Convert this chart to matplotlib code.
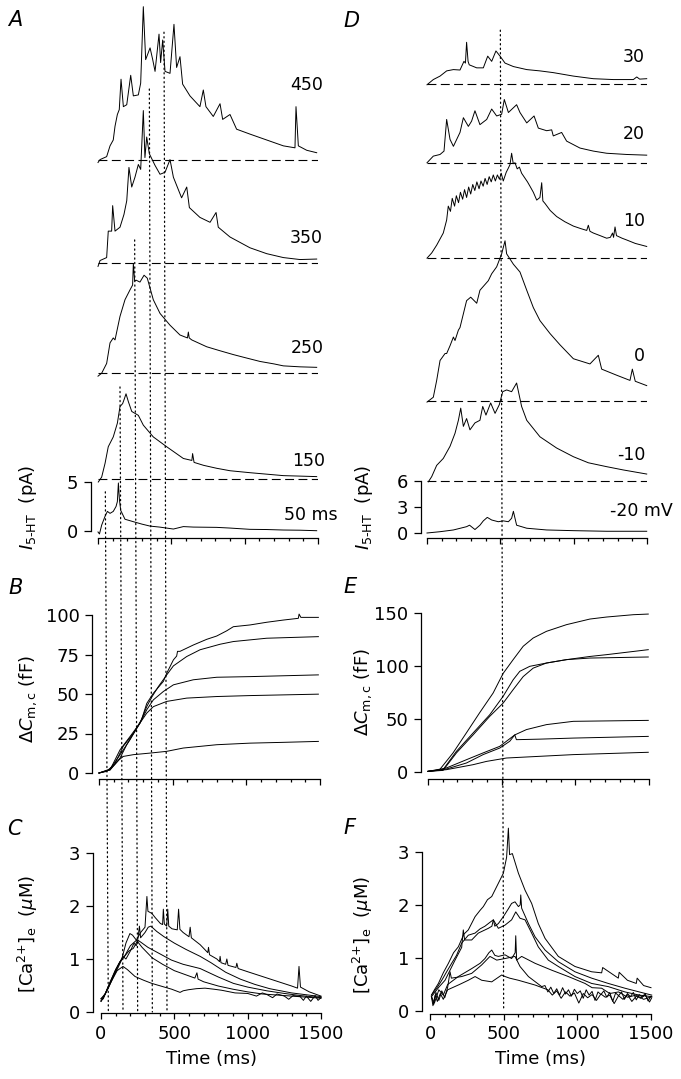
import numpy as np
import matplotlib
matplotlib.use('Agg')
import matplotlib.pyplot as plt
from matplotlib.patches import ConnectionPatch
from matplotlib.ticker import MultipleLocator

plt.rcParams['font.family'] = 'DejaVu Sans'
plt.rcParams['mathtext.fontset'] = 'dejavusans'

# ---------------- data ----------------
# A: I_5-HT (pA) for depolarisations of 50..450 ms
a_durations = [50, 150, 250, 350, 450]
a_labels = ['50 ms', '150', '250', '350', '450']

a50_t = [0, 10, 25, 48, 64, 82, 104, 123, 132, 139, 146, 155, 184, 241, 300, 355, 420, 514, 582, 650, 809, 900, 1036, 1150, 1264, 1380, 1491]
a50_i = [-0.1, -0.3, 0.6, 1.5, 2.0, 1.8, 2.0, 2.5, 3.0, 4.9, 3.2, 2.1, 1.2, 0.95, 0.7, 0.5, 0.4, 0.2, 0.45, 0.4, 0.37, 0.3, 0.17, 0.15, 0.1, 0.08, 0.03]

a150_t = [2, 25, 48, 70, 104, 132, 150, 168, 180, 191, 207, 230, 275, 309, 377, 468, 582, 640, 645, 655, 720, 809, 900, 1036, 1150, 1264, 1380, 1491]
a150_i = [-0.3, 0.2, 1.6, 3.3, 4.3, 5.7, 7.4, 7.7, 8.2, 8.7, 7.9, 6.9, 6.5, 5.5, 4.3, 3.3, 2.1, 1.9, 2.6, 1.7, 1.4, 1.1, 0.85, 0.65, 0.5, 0.35, 0.3, 0.25]

a250_t = [0, 25, 59, 82, 104, 116, 150, 184, 218, 236, 241, 250, 259, 286, 314, 336, 377, 423, 491, 559, 610, 616, 622, 639, 741, 830, 923, 1000, 1105, 1200, 1264, 1380, 1491]
a250_i = [-0.3, 0.0, 1.0, 3.1, 3.6, 3.4, 5.8, 7.5, 8.5, 9.0, 11.2, 9.4, 9.5, 9.3, 10.0, 9.7, 7.5, 6.1, 4.9, 3.9, 3.6, 4.2, 3.6, 3.4, 2.7, 2.3, 1.9, 1.6, 1.2, 0.95, 0.75, 0.65, 0.6]

a350_t = [0, 14, 59, 70, 93, 100, 116, 150, 177, 196, 211, 230, 252, 275, 291, 309, 320, 332, 350, 389, 423, 457, 491, 514, 570, 605, 623, 695, 764, 805, 820, 900, 1036, 1150, 1264, 1377, 1491]
a350_i = [-0.3, 0.3, 0.6, 3.3, 3.3, 5.9, 3.3, 3.7, 5.0, 6.4, 9.8, 7.8, 8.8, 10.1, 9.6, 15.6, 10.8, 12.9, 11.2, 10.0, 9.1, 9.3, 10.6, 8.8, 6.7, 7.8, 5.7, 4.7, 4.2, 5.2, 3.7, 2.7, 1.6, 1.0, 0.6, 0.4, 0.45]

a450_t = [0, 14, 59, 82, 104, 116, 132, 145, 157, 173, 196, 223, 241, 275, 291, 309, 325, 355, 373, 389, 416, 427, 441, 457, 491, 518, 536, 559, 577, 627, 695, 718, 736, 786, 832, 850, 900, 945, 1036, 1150, 1264, 1343, 1350, 1366, 1423, 1491]
a450_i = [-0.3, 0.0, 0.3, 1.4, 2.0, 3.4, 4.6, 5.1, 8.2, 5.4, 5.6, 8.6, 6.5, 6.6, 7.8, 15.6, 10.2, 11.4, 10.2, 9.0, 12.8, 9.9, 12.2, 9.0, 8.8, 13.8, 9.4, 10.5, 7.7, 6.5, 5.4, 7.1, 5.4, 4.4, 5.7, 4.1, 4.6, 3.1, 2.6, 2.0, 1.4, 1.2, 5.4, 1.4, 0.95, 0.7]

# D: I_5-HT (pA) for 500 ms steps to -20..30 mV
d_duration = 500
d_labels = ['-20 mV', '-10', '0', '10', '20', '30']

dm20_t = [0, 89, 180, 270, 290, 327, 361, 384, 411, 441, 486, 520, 555, 577, 589, 611, 680, 816, 998, 1225, 1498]
dm20_i = [0, 0.15, 0.35, 0.73, 0.9, 0.4, 0.9, 1.4, 1.8, 1.5, 1.3, 1.4, 1.3, 1.7, 2.5, 0.9, 0.55, 0.35, 0.27, 0.2, 0.2]

dm10_t = [9, 32, 66, 111, 157, 191, 214, 230, 248, 270, 293, 327, 361, 380, 402, 434, 464, 493, 516, 543, 577, 611, 645, 680, 770, 884, 998, 1100, 1225, 1339, 1498]
dm10_i = [-0.1, 0.5, 1.8, 2.6, 4.0, 5.5, 7.0, 8.4, 6.3, 7.2, 5.9, 6.7, 7.0, 8.6, 7.6, 9.0, 7.8, 8.8, 10.3, 10.5, 10.3, 11.3, 8.6, 7.0, 5.1, 3.8, 2.8, 2.1, 1.65, 1.27, 0.8]

d0_t = [0, 43, 66, 89, 123, 134, 157, 180, 191, 214, 225, 270, 298, 339, 361, 418, 441, 475, 509, 532, 543, 589, 634, 680, 725, 770, 839, 907, 998, 1111, 1168, 1191, 1293, 1384, 1400, 1420, 1498]
d0_i = [-0.1, 0.46, 2.4, 4.7, 5.5, 5.5, 6.4, 7.4, 7.0, 8.2, 8.5, 11.6, 12.0, 11.3, 12.8, 13.9, 14.7, 15.5, 17.0, 18.5, 17.0, 15.8, 14.9, 12.8, 10.8, 9.3, 7.8, 6.5, 4.9, 4.3, 5.3, 3.7, 3.0, 2.4, 3.7, 2.3, 1.8]

d10_t = [0, 32, 66, 111, 134, 145, 160, 172, 188, 200, 215, 228, 243, 256, 270, 284, 298, 312, 326, 340, 355, 368, 383, 396, 410, 424, 438, 452, 466, 480, 494, 506, 520, 540, 555, 566, 577, 588, 600, 615, 630, 645, 665, 685, 702, 725, 748, 770, 782, 790, 805, 840, 884, 940, 998, 1050, 1089, 1100, 1111, 1134, 1180, 1225, 1250, 1265, 1272, 1282, 1292, 1330, 1361, 1420, 1498]
d10_i = [0, 0.6, 1.5, 2.9, 4.4, 6.0, 5.4, 6.9, 6.0, 7.2, 6.4, 7.6, 6.8, 7.9, 7.0, 8.2, 7.4, 8.5, 7.8, 8.8, 8.0, 8.9, 8.3, 9.2, 8.5, 9.4, 8.8, 9.6, 8.9, 9.6, 9.1, 9.8, 8.9, 9.9, 10.4, 10.8, 12.1, 10.9, 11.0, 10.3, 10.5, 9.8, 9.3, 8.8, 8.3, 7.6, 6.7, 7.0, 8.7, 6.6, 6.3, 5.5, 4.8, 4.2, 3.7, 3.4, 3.2, 3.8, 3.1, 2.9, 2.6, 2.3, 2.4, 2.9, 2.4, 3.6, 2.6, 2.3, 2.1, 1.7, 1.35]

d20_t = [0, 43, 89, 116, 134, 157, 180, 225, 248, 282, 304, 327, 361, 407, 441, 475, 509, 527, 555, 611, 634, 680, 730, 759, 816, 850, 861, 918, 952, 1043, 1134, 1225, 1361, 1498]
d20_i = [0, 0.77, 0.96, 1.35, 5.0, 2.7, 1.9, 3.5, 5.2, 4.2, 4.8, 6.0, 4.4, 5.0, 6.2, 5.4, 5.6, 7.3, 5.8, 6.7, 5.8, 4.6, 5.4, 4.0, 3.7, 3.8, 3.1, 3.5, 2.5, 1.7, 1.35, 1.1, 0.96, 0.88]

d30_t = [0, 43, 89, 134, 180, 225, 252, 262, 270, 280, 288, 339, 384, 414, 441, 470, 498, 532, 589, 680, 770, 861, 998, 1134, 1270, 1407, 1430, 1450, 1498]
d30_i = [-0.1, 0.5, 0.9, 1.5, 1.65, 1.6, 2.6, 2.4, 4.8, 2.6, 2.2, 1.85, 1.85, 3.2, 2.6, 3.8, 3.2, 2.4, 2.0, 1.65, 1.5, 1.3, 0.9, 0.6, 0.5, 0.5, 0.8, 0.55, 0.6]

# B: delta Cm,c (fF)
b450_t = [0, 52, 109, 165, 233, 290, 324, 369, 437, 459, 505, 527, 533, 550, 640, 731, 799, 867, 912, 1025, 1138, 1251, 1353, 1358, 1370, 1489]
b450_c = [0, 1, 6, 17, 25, 34, 44, 50.5, 58, 63, 71.6, 74, 77, 77, 81, 84.6, 86.7, 90, 92.6, 93.7, 95.4, 96.8, 97.9, 100.6, 98.5, 98.5]
b350_t = [0, 75, 143, 210, 278, 324, 358, 403, 459, 505, 595, 686, 822, 912, 1138, 1489]
b350_c = [0, 2, 14.7, 23, 31.6, 42, 48, 54.7, 62, 67.8, 73.7, 78, 81.5, 83.2, 85.3, 86.3]
b250_t = [0, 75, 143, 210, 278, 324, 369, 437, 505, 640, 799, 1025, 1489]
b250_c = [0, 2.5, 11.6, 21, 31.6, 40, 46.3, 51.6, 55.8, 59, 60.6, 61, 62.1]
b150_t = [0, 75, 143, 188, 233, 278, 324, 369, 459, 595, 799, 1025, 1489]
b150_c = [0, 2, 9.5, 17.9, 25, 31.6, 37.9, 42, 45.3, 47.4, 48.4, 49, 49.9]
b50_t = [0, 75, 137, 165, 233, 346, 459, 572, 799, 1025, 1250, 1489]
b50_c = [0, 2, 8.4, 10.5, 11.6, 12.6, 13.7, 15.8, 17.9, 18.9, 19.4, 20]

# E: delta Cm,c (fF)
e1_t = [0, 79, 170, 261, 351, 442, 510, 578, 646, 714, 804, 940, 1099, 1212, 1394, 1495]
e1_c = [0.6, 2.2, 18, 37, 56, 74.5, 93, 106, 118.6, 126.4, 132.7, 139, 144.3, 146.2, 148.4, 149]
e2_t = [0, 102, 193, 306, 419, 510, 578, 623, 691, 804, 940, 1099, 1212, 1495]
e2_c = [0.6, 2.2, 19.5, 36.8, 54, 71.4, 87, 95, 99.7, 102.8, 106, 109, 110.7, 115.4]
e3_t = [0, 102, 193, 306, 419, 510, 578, 646, 714, 804, 940, 1099, 1495]
e3_c = [0.6, 1.5, 18, 35, 52.5, 65, 77.7, 90, 98, 102.8, 106, 107.5, 108.5]
e4_t = [0, 125, 261, 374, 487, 589, 668, 804, 986, 1495]
e4_c = [0.6, 3.8, 11.6, 18, 24.2, 35, 40, 44.7, 47.8, 48.7]
e5_t = [0, 125, 261, 374, 487, 555, 589, 600, 759, 986, 1495]
e5_c = [0.6, 2.8, 8.5, 16.4, 22.6, 29, 35, 30.5, 31, 32, 33.6]
e6_t = [0, 125, 306, 397, 465, 533, 759, 986, 1495]
e6_c = [0.6, 2.2, 6.9, 10, 11.6, 13.2, 14.8, 16.4, 18.6]

# C: [Ca2+]e (uM)
c50_t = [0, 16, 40, 75, 110, 150, 180, 232, 290, 346, 420, 482, 539, 560, 596, 650, 709, 770, 823, 914, 1000, 1060, 1100, 1131, 1170, 1200, 1250, 1280, 1310, 1358, 1380, 1400, 1430, 1460, 1480, 1500]
c50_v = [0.22, 0.25, 0.42, 0.6, 0.78, 0.86, 0.8, 0.67, 0.6, 0.54, 0.48, 0.43, 0.37, 0.40, 0.42, 0.44, 0.45, 0.43, 0.41, 0.36, 0.35, 0.3, 0.36, 0.33, 0.27, 0.34, 0.3, 0.24, 0.31, 0.29, 0.22, 0.3, 0.2, 0.31, 0.22, 0.27]
c150_t = [0, 16, 40, 75, 110, 140, 170, 197, 215, 240, 280, 350, 420, 500, 580, 640, 654, 662, 700, 800, 900, 1000, 1100, 1200, 1300, 1400, 1500]
c150_v = [0.2, 0.27, 0.4, 0.62, 0.8, 0.98, 1.3, 1.48, 1.45, 1.36, 1.22, 1.02, 0.9, 0.78, 0.7, 0.64, 0.74, 0.62, 0.57, 0.49, 0.43, 0.38, 0.34, 0.32, 0.3, 0.28, 0.26]
c250_t = [0, 20, 50, 90, 120, 150, 170, 200, 225, 240, 254, 270, 320, 400, 480, 560, 676, 800, 903, 1000, 1130, 1250, 1360, 1500]
c250_v = [0.25, 0.3, 0.45, 0.7, 0.9, 1.05, 1.0, 1.15, 1.3, 1.25, 1.35, 1.32, 1.22, 1.1, 0.98, 0.9, 0.82, 0.66, 0.54, 0.47, 0.4, 0.35, 0.31, 0.27]
c350_t = [0, 30, 60, 100, 130, 160, 190, 220, 250, 262, 270, 300, 322, 340, 380, 430, 500, 580, 676, 750, 850, 950, 1050, 1150, 1300, 1500]
c350_v = [0.25, 0.35, 0.55, 0.8, 0.95, 1.05, 1.15, 1.2, 1.35, 1.62, 1.4, 1.5, 1.6, 1.62, 1.52, 1.42, 1.3, 1.18, 1.05, 0.93, 0.75, 0.62, 0.52, 0.44, 0.36, 0.29]
c450_t = [0, 30, 60, 100, 130, 160, 200, 240, 270, 300, 313, 320, 347, 370, 405, 420, 425, 432, 448, 455, 462, 484, 520, 529, 538, 560, 600, 608, 616, 676, 728, 733, 740, 790, 808, 812, 818, 850, 858, 866, 920, 926, 935, 1000, 1100, 1200, 1300, 1340, 1350, 1360, 1420, 1500]
c450_v = [0.2, 0.35, 0.55, 0.8, 0.95, 1.05, 1.25, 1.35, 1.5, 1.6, 2.18, 1.9, 1.86, 1.78, 1.67, 1.65, 1.94, 1.66, 1.62, 1.94, 1.62, 1.57, 1.55, 1.94, 1.56, 1.5, 1.42, 1.6, 1.4, 1.27, 1.12, 1.22, 1.08, 1.0, 0.95, 1.05, 0.93, 0.9, 1.0, 0.88, 0.84, 0.92, 0.82, 0.76, 0.67, 0.58, 0.49, 0.45, 0.86, 0.47, 0.38, 0.3]

# F: [Ca2+]e (uM)
f1_t = [10, 30, 57, 90, 125, 160, 192, 230, 260, 306, 340, 362, 390, 419, 464, 498, 520, 532, 540, 559, 600, 645, 690, 735, 781, 871, 984, 1097, 1165, 1172, 1278, 1284, 1340, 1400, 1406, 1450, 1500]
f1_v = [0.3, 0.4, 0.52, 0.72, 0.9, 1.1, 1.21, 1.45, 1.53, 1.78, 1.9, 1.97, 2.1, 2.16, 2.41, 2.6, 2.9, 3.45, 2.95, 2.97, 2.6, 2.28, 2.03, 1.65, 1.37, 1.03, 0.84, 0.74, 0.72, 0.82, 0.62, 0.73, 0.58, 0.52, 0.62, 0.48, 0.44]
f2_t = [10, 50, 80, 115, 147, 180, 215, 260, 306, 340, 373, 410, 430, 440, 464, 498, 530, 554, 577, 600, 612, 616, 622, 668, 713, 781, 871, 984, 1097, 1210, 1323, 1420, 1505]
f2_v = [0.3, 0.45, 0.58, 0.75, 0.9, 1.05, 1.28, 1.43, 1.47, 1.55, 1.6, 1.68, 1.72, 1.6, 1.65, 1.78, 1.92, 2.03, 2.06, 1.97, 2.0, 2.19, 1.94, 1.65, 1.4, 1.15, 0.93, 0.74, 0.62, 0.52, 0.43, 0.36, 0.3]
f3_t = [10, 60, 102, 170, 215, 226, 235, 283, 328, 396, 420, 430, 464, 509, 554, 582, 611, 645, 690, 735, 803, 871, 984, 1097, 1210, 1323, 1420, 1505]
f3_v = [0.27, 0.45, 0.58, 0.96, 1.2, 1.53, 1.34, 1.34, 1.47, 1.56, 1.6, 1.72, 1.56, 1.62, 1.72, 1.87, 1.75, 1.72, 1.47, 1.21, 0.96, 0.84, 0.65, 0.52, 0.46, 0.36, 0.3, 0.27]
f4_t = [10, 30, 60, 90, 120, 192, 283, 340, 373, 400, 419, 440, 464, 509, 554, 578, 582, 588, 622, 713, 826, 939, 1052, 1100, 1165, 1220, 1280, 1340, 1400, 1450, 1505]
f4_v = [0.27, 0.15, 0.4, 0.3, 0.5, 0.65, 0.8, 0.9, 0.99, 1.1, 1.15, 1.05, 1.03, 1.06, 0.99, 1.1, 1.42, 0.96, 1.03, 0.9, 0.77, 0.65, 0.52, 0.44, 0.43, 0.33, 0.36, 0.26, 0.3, 0.22, 0.27]
f5_t = [10, 25, 40, 60, 80, 100, 120, 136, 145, 215, 283, 351, 407, 453, 509, 577, 611, 668, 758, 780, 800, 820, 840, 860, 880, 900, 920, 940, 960, 980, 1000, 1020, 1040, 1060, 1080, 1100, 1120, 1140, 1160, 1180, 1200, 1220, 1240, 1260, 1280, 1300, 1320, 1340, 1360, 1380, 1400, 1420, 1440, 1460, 1480, 1500]
f5_v = [0.27, 0.12, 0.35, 0.2, 0.38, 0.25, 0.45, 0.74, 0.62, 0.65, 0.71, 0.87, 1.03, 0.96, 0.99, 1.03, 0.84, 0.65, 0.46, 0.48, 0.36, 0.45, 0.33, 0.42, 0.30, 0.44, 0.32, 0.40, 0.28, 0.41, 0.33, 0.38, 0.24, 0.40, 0.30, 0.37, 0.20, 0.36, 0.31, 0.38, 0.26, 0.35, 0.18, 0.34, 0.29, 0.36, 0.22, 0.33, 0.27, 0.35, 0.21, 0.31, 0.26, 0.33, 0.19, 0.28]
f6_t = [10, 20, 35, 50, 70, 90, 120, 160, 200, 260, 306, 351, 419, 487, 500, 540, 600, 713, 800, 830, 860, 890, 920, 950, 980, 1010, 1040, 1070, 1100, 1130, 1160, 1190, 1220, 1250, 1280, 1310, 1340, 1370, 1400, 1430, 1460, 1490, 1505]
f6_v = [0.27, 0.1, 0.3, 0.18, 0.33, 0.22, 0.4, 0.45, 0.5, 0.58, 0.65, 0.58, 0.55, 0.68, 0.66, 0.62, 0.58, 0.49, 0.4, 0.3, 0.38, 0.24, 0.36, 0.28, 0.34, 0.15, 0.33, 0.25, 0.31, 0.2, 0.32, 0.26, 0.3, 0.14, 0.29, 0.22, 0.31, 0.18, 0.28, 0.24, 0.3, 0.17, 0.25]

# ---------------- layout ----------------
W, H = 681, 1079
fig = plt.figure(figsize=(W / 100, H / 100), dpi=100)
LW = 0.7
FS = 13


def add_panel(x0, x1, y0, ppu, ylim, yoff, ybounds, yticks, xlabels=False):
    # x0/x1: pixel columns of t=0 and t=1500, y0: pixel row of value 0, ppu: pixels per unit
    bot = y0 - ylim[0] * ppu
    top = y0 - ylim[1] * ppu
    ax = fig.add_axes([x0 / W, 1 - bot / H, (x1 - x0) / W, (bot - top) / H])
    ax.set_xlim(0, 1500)
    ax.set_ylim(*ylim)
    ax.patch.set_alpha(0)
    ax.spines['top'].set_visible(False)
    ax.spines['right'].set_visible(False)
    for s in ['left', 'bottom']:
        ax.spines[s].set_linewidth(0.9)
    ax.spines['bottom'].set_bounds(0, 1500)
    ax.spines['left'].set_bounds(*ybounds)
    ax.spines['left'].set_position(('outward', yoff * 0.72))
    ax.xaxis.set_major_locator(MultipleLocator(500))
    ax.xaxis.set_minor_locator(MultipleLocator(100))
    ax.set_yticks(yticks)
    ax.tick_params(axis='x', which='major', length=4.5, width=0.9, labelsize=FS, pad=4,
                   labelbottom=xlabels)
    ax.tick_params(axis='x', which='minor', length=2.4, width=0.9)
    ax.tick_params(axis='y', length=5, width=0.9, labelsize=FS, pad=4)
    return ax


axA = add_panel(98, 318, 531, 9.8, (-0.7, 54), 7.3, (0, 5), [0, 5])
axB = add_panel(99, 320, 773, 1.58, (-3.8, 102), 7, (0, 100), [0, 25, 50, 75, 100])
axC = add_panel(101, 321, 1012, 53, (-0.02, 3.1), 8, (0, 3), [0, 1, 2, 3], True)
axD = add_panel(427, 647, 533, 8.67, (-0.6, 59), 6.3, (0, 6), [0, 3, 6])
axE = add_panel(428, 649, 772, 1.06, (-6.6, 152), 7, (0, 150), [0, 50, 100, 150])
axF = add_panel(430, 651, 1011, 53, (-0.05, 3.3), 8, (0, 3), [0, 1, 2, 3], True)

dash = (0, (8, 4))
dot = (0, (1, 2.6))

# A: stacked current traces
a_traces = [(a50_t, a50_i), (a150_t, a150_i), (a250_t, a250_i), (a350_t, a350_i), (a450_t, a450_i)]
a_offsets = [0, 5.3, 16.1, 27.3, 37.9]
for (t, i), off in zip(a_traces, a_offsets):
    axA.plot(t, np.array(i) + off, color='k', lw=LW, clip_on=False)
    if off > 0:
        axA.hlines(off, 0, 1500, colors='k', lw=0.8, linestyles=dash)

# D: stacked current traces
d_traces = [(dm20_t, dm20_i), (dm10_t, dm10_i), (d0_t, d0_i), (d10_t, d10_i), (d20_t, d20_i), (d30_t, d30_i)]
d_offsets = [0, 6, 15.2, 31.7, 42.7, 51.8]
for (t, i), off in zip(d_traces, d_offsets):
    axD.plot(t, np.array(i) + off, color='k', lw=LW, clip_on=False)
    if off > 0:
        axD.hlines(off, 0, 1500, colors='k', lw=0.8, linestyles=dash)

for t, c in [(b450_t, b450_c), (b350_t, b350_c), (b250_t, b250_c), (b150_t, b150_c), (b50_t, b50_c)]:
    axB.plot(t, c, color='k', lw=LW, clip_on=False)
for t, c in [(e1_t, e1_c), (e2_t, e2_c), (e3_t, e3_c), (e4_t, e4_c), (e5_t, e5_c), (e6_t, e6_c)]:
    axE.plot(t, c, color='k', lw=LW, clip_on=False)
for t, v in [(c50_t, c50_v), (c150_t, c150_v), (c250_t, c250_v), (c350_t, c350_v), (c450_t, c450_v)]:
    axC.plot(t, v, color='k', lw=LW, clip_on=False)
for t, v in [(f1_t, f1_v), (f2_t, f2_v), (f3_t, f3_v), (f4_t, f4_v), (f5_t, f5_v), (f6_t, f6_v)]:
    axF.plot(t, v, color='k', lw=LW, clip_on=False)

# dotted markers of pulse end, running through all three panels
a_dot_tops = [4.0, 14.7, 29.7, 45.1, 50.9]
for dur, top in zip(a_durations, a_dot_tops):
    con = ConnectionPatch(xyA=(dur, top), coordsA=axA.transData, xyB=(dur, 0), coordsB=axC.transData,
                          color='k', lw=0.9, linestyle=dot)
    fig.add_artist(con)
con = ConnectionPatch(xyA=(d_duration, 58), coordsA=axD.transData, xyB=(d_duration, 0), coordsB=axF.transData,
                      color='k', lw=0.9, linestyle=dot)
fig.add_artist(con)

axC.set_xlabel('Time (ms)', fontsize=FS, labelpad=5)
axF.set_xlabel('Time (ms)', fontsize=FS, labelpad=5)


def ftext(x, y, s, **kw):
    fig.text(x / W, 1 - y / H, s, **kw)


# trace labels
for lab, (x, y) in zip(a_labels, [(338, 515), (325, 461), (324, 348), (323, 238), (323, 85)]):
    ftext(x, y, lab, ha='right', va='center', fontsize=12.5)
for lab, (x, y) in zip(d_labels, [(673, 511), (645, 455), (645, 356), (645, 221), (645, 134), (645, 57)]):
    ftext(x, y, lab, ha='right', va='center', fontsize=12.5)

# axis titles
ilab = r'$I_{\mathrm{5\text{-}HT}}$  (pA)'
clab = r'$\Delta C_{\mathrm{m,c}}$ (fF)'
calab = r'[Ca$^{2{+}}$]$_{\mathrm{e}}$  ($\mu$M)'
ftext(28, 507, ilab, rotation=90, ha='center', va='center', fontsize=FS)
ftext(364, 507, ilab, rotation=90, ha='center', va='center', fontsize=FS)
ftext(28, 699, clab, rotation=90, ha='center', va='center', fontsize=FS)
ftext(363, 692, clab, rotation=90, ha='center', va='center', fontsize=FS)
ftext(28, 934, calab, rotation=90, ha='center', va='center', fontsize=FS)
ftext(363, 935, calab, rotation=90, ha='center', va='center', fontsize=FS)

# panel letters
for s, (x, y) in zip('ADBECF', [(8, 20), (343, 21), (8, 588), (343, 587), (7, 829), (343, 828)]):
    ftext(x, y, s, ha='left', va='center', fontsize=15, style='italic')

fig.savefig('out.png', dpi=100)
